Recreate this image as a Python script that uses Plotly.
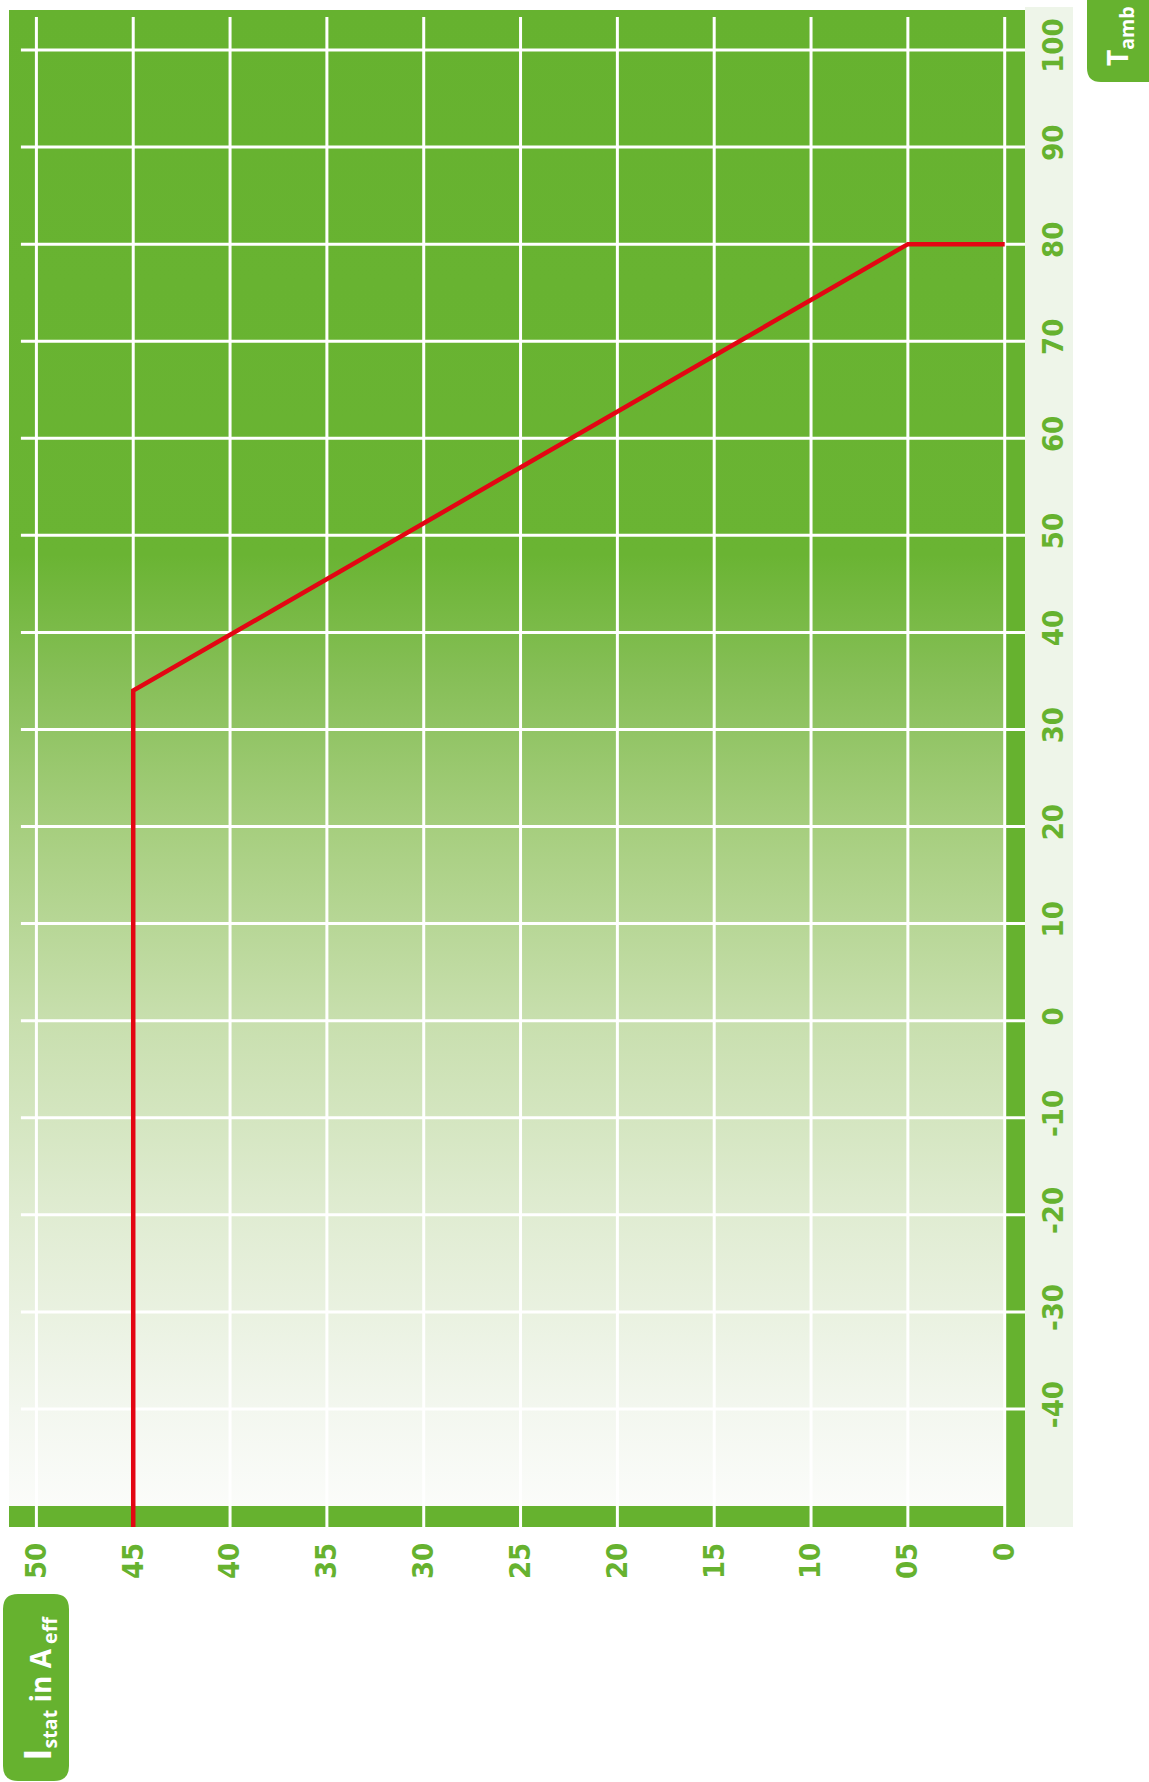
import plotly.graph_objects as go

# Derating curve: static current vs. ambient temperature
temp_c = [-55, 34, 80, 80]
current_a = [45, 45, 5, 0]

# Axis ticks
temp_ticks = [-40, -30, -20, -10, 0, 10, 20, 30, 40, 50, 60, 70, 80, 90, 100]
temp_tick_text = ["-40", "-30", "-20", "-10", "0", "10", "20", "30", "40", "50", "60", "70", "80", "90", "100"]
current_ticks = [0, 5, 10, 15, 20, 25, 30, 35, 40, 45, 50]
current_tick_text = ["0", "05", "10", "15", "20", "25", "30", "35", "40", "45", "50"]

# Background gradient stops (temperature, colour)
grad_temp = [-50, -40, -20, 0, 20, 35, 48, 104.12]
grad_color = ["#fbfcfa", "#f3f7ef", "#e0ecd2", "#c8dfae", "#a6ce7e", "#87bf58", "#6ab433", "#66b22f"]

GREEN = "#66b22f"
RED = "#e30613"
PALE = "#eef5e9"

W, H = 1149, 1782
L, R, T, B = 9, 124, 10, 255
X_RANGE = [51.415, -1.048]
Y_RANGE = [-52.16, 104.12]
PW, PH = W - L - R, H - T - B


def px_x(p):
    return (p - L) / PW


def px_y(p):
    return (H - B - p) / PH


def rounded_rect(x0, y0, x1, y1, r):
    pts = [
        f"M {px_x(x0 + r)},{px_y(y0)}",
        f"L {px_x(x1 - r)},{px_y(y0)}",
        f"Q {px_x(x1)},{px_y(y0)} {px_x(x1)},{px_y(y0 + r)}",
        f"L {px_x(x1)},{px_y(y1 - r)}",
        f"Q {px_x(x1)},{px_y(y1)} {px_x(x1 - r)},{px_y(y1)}",
        f"L {px_x(x0 + r)},{px_y(y1)}",
        f"Q {px_x(x0)},{px_y(y1)} {px_x(x0)},{px_y(y1 - r)}",
        f"L {px_x(x0)},{px_y(y0 + r)}",
        f"Q {px_x(x0)},{px_y(y0)} {px_x(x0 + r)},{px_y(y0)}",
    ]
    return " ".join(pts) + " Z"


g_lo, g_hi = grad_temp[0], grad_temp[-1]
colorscale = [[(t - g_lo) / (g_hi - g_lo), c] for t, c in zip(grad_temp, grad_color)]

fig = go.Figure()

# Gradient field left of the zero-current line
fig.add_trace(go.Scatter(
    x=[X_RANGE[0], 0, 0, X_RANGE[0], X_RANGE[0]],
    y=[g_lo, g_lo, g_hi, g_hi, g_lo],
    mode="lines", line=dict(width=0), fill="toself",
    fillgradient=dict(type="vertical", colorscale=colorscale, start=g_lo, stop=g_hi),
    hoverinfo="skip", showlegend=False,
))

# White grid, drawn as traces so the curve sits on top of it
gx, gy = [], []
for t in temp_ticks:
    gx += [50.8, X_RANGE[1], None]
    gy += [t, t, None]
for c in current_ticks:
    gx += [c, c, None]
    gy += [Y_RANGE[0], 103.4, None]
fig.add_trace(go.Scatter(x=gx, y=gy, mode="lines", line=dict(color="white", width=3),
                         hoverinfo="skip", showlegend=False))

# Derating curve
fig.add_trace(go.Scatter(
    x=current_a, y=temp_c, mode="lines",
    line=dict(color=RED, width=4.5), hoverinfo="skip", showlegend=False,
))

shapes = [
    # Pale strip behind the temperature labels
    dict(type="rect", xref="paper", yref="paper",
         x0=px_x(1025), x1=px_x(1073), y0=px_y(1527), y1=px_y(7),
         fillcolor=PALE, line=dict(width=0), layer="below"),
    # Axis title boxes
    dict(type="path", xref="paper", yref="paper",
         path=rounded_rect(3, 1594, 69, 1781, 15),
         fillcolor=GREEN, line=dict(width=0)),
    dict(type="path", xref="paper", yref="paper",
         path=rounded_rect(1087, -30, 1175, 82, 14),
         fillcolor=GREEN, line=dict(width=0)),
]

tick_font = dict(family="Liberation Sans Narrow, DejaVu Sans Condensed, Roboto, sans-serif",
                 size=29, color=GREEN, weight="bold")
title_font = dict(family="Open Sans, Noto Sans, sans-serif", size=28, color="white", weight="bold")

fig.update_layout(
    width=W, height=H,
    margin=dict(l=L, r=R, t=T, b=B, pad=0),
    paper_bgcolor="white",
    plot_bgcolor=GREEN,
    shapes=shapes,
    xaxis=dict(range=X_RANGE, showgrid=False, zeroline=False, showline=False,
               tickmode="array", tickvals=current_ticks, ticktext=current_tick_text,
               tickangle=-90, tickfont=tick_font, ticks="", ticklabelstandoff=9),
    yaxis=dict(range=Y_RANGE, side="right", showgrid=False, zeroline=False, showline=False,
               tickmode="array", tickvals=temp_ticks, ticktext=temp_tick_text,
               tickangle=-90, tickfont=tick_font, ticks="", ticklabelstandoff=8),
    annotations=[
        dict(xref="paper", yref="paper", x=px_x(37), y=px_y(1688),
             text="<span style='font-size:38px'>I</span><sub>stat</sub> in A<sub> eff</sub>",
             textangle=-90, showarrow=False, xanchor="center", yanchor="middle",
             font=title_font),
        dict(xref="paper", yref="paper", x=px_x(1119), y=px_y(68),
             text="T<sub>amb</sub>",
             textangle=-90, showarrow=False, xanchor="center", yanchor="bottom",
             font=title_font),
    ],
)

fig.write_html("out.html")
